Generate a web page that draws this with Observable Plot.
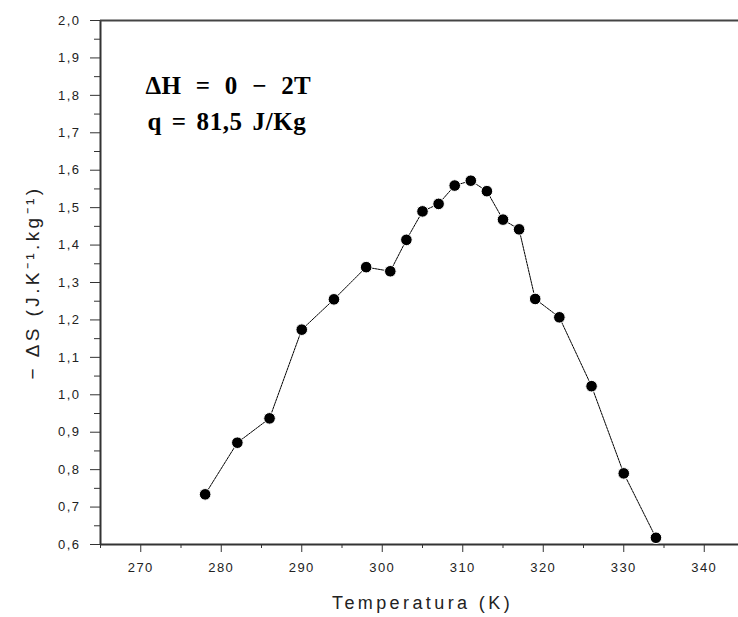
<!DOCTYPE html>
<html><head><meta charset="utf-8">
<script src="https://cdn.jsdelivr.net/npm/d3@7"></script>
<script src="https://cdn.jsdelivr.net/npm/@observablehq/plot@0.6"></script>
<style>
html,body{margin:0;padding:0;background:#fff;overflow:hidden}
#chart svg text{letter-spacing:1.5px}
#chart svg g.lbl text{letter-spacing:3.4px}
#chart svg g.ann1 text{letter-spacing:0.3px;word-spacing:8px}
#chart svg g.ann2 text{letter-spacing:0.6px;word-spacing:3px}
</style>
</head><body><div id="chart"></div>
<script>
const temperature = [278,282,286,290,294,298,301,303,305,307,309,311,313,315,317,319,322,326,330,334];
const deltaS = [0.734,0.872,0.937,1.174,1.255,1.341,1.330,1.414,1.490,1.510,1.559,1.572,1.544,1.468,1.442,1.256,1.207,1.023,0.790,0.618];
const xMajorTicks = [270,280,290,300,310,320,330,340];
const xMinorTicks = [265,275,285,295,305,315,325,335,345];
const yMajorTicks = [0.6,0.7,0.8,0.9,1.0,1.1,1.2,1.3,1.4,1.5,1.6,1.7,1.8,1.9,2.0];
const yMinorTicks = [0.65,0.75,0.85,0.95,1.05,1.15,1.25,1.35,1.45,1.55,1.65,1.75,1.85,1.95];
const xLabel = "Temperatura (K)";
const yLabel = "− ΔS (J.K⁻¹.kg⁻¹)";
const annotation1 = "ΔH = 0 − 2T";
const annotation2 = "q = 81,5 J/Kg";

const data = temperature.map((t, i) => ({t, s: deltaS[i]}));
const fmt = d => d.toFixed(1).replace(".", ",");
const axisColor = "#333";

const chart = Plot.plot({
  width: 738,
  height: 617,
  marginLeft: 100,
  marginRight: 0,
  marginTop: 20,
  marginBottom: 73,
  style: {fontFamily: "'Liberation Sans', Arial, sans-serif", fontSize: "13px", color: "#222", background: "#fff", overflow: "hidden"},
  x: {domain: [265, 345], range: [100, 744]},
  y: {domain: [0.6, 2.0]},
  marks: [
    Plot.axisX(xMajorTicks, {tickSize: 8, tickPadding: 10, tickFormat: d => String(d), label: null, stroke: axisColor}),
    Plot.axisX(xMinorTicks, {tickSize: 4, tickFormat: () => "", label: null, stroke: axisColor}),
    Plot.axisY(yMajorTicks, {tickSize: 10, tickPadding: 10, tickFormat: fmt, label: null, stroke: axisColor}),
    Plot.axisY(yMinorTicks, {tickSize: 6, tickFormat: () => "", label: null, stroke: axisColor}),
    Plot.ruleX([265], {stroke: axisColor, strokeWidth: 2}),
    Plot.ruleY([0.6], {stroke: axisColor, strokeWidth: 2}),
    Plot.ruleY([2.0], {stroke: "#444", strokeWidth: 2}),
    Plot.line(data, {x: "t", y: "s", stroke: "#000", strokeWidth: 1, strokeDasharray: "2,1"}),
    Plot.dot(data, {x: "t", y: "s", r: 5.8, fill: "#000", stroke: "#fff", strokeWidth: 1}),
    Plot.text([annotation1], {text: d => d, frameAnchor: "top-left", dx: 45, dy: 65, lineAnchor: "middle", textAnchor: "start", fontFamily: "'Liberation Serif', 'Times New Roman', serif", fontWeight: "bold", fontSize: 25, fill: "#000", className: "ann1"}),
    Plot.text([annotation2], {text: d => d, frameAnchor: "top-left", dx: 47, dy: 101, lineAnchor: "middle", textAnchor: "start", fontFamily: "'Liberation Serif', 'Times New Roman', serif", fontWeight: "bold", fontSize: 25, fill: "#000", className: "ann2"}),
    Plot.text([xLabel], {text: d => d, frameAnchor: "bottom", dx: 3, dy: 59, lineAnchor: "middle", textAnchor: "middle", fontSize: 18, fill: "#222", className: "lbl"}),
    Plot.text([yLabel], {text: d => d, frameAnchor: "left", dx: -68, rotate: -90, lineAnchor: "middle", textAnchor: "middle", fontSize: 19, fill: "#222", className: "lbl"})
  ]
});
document.getElementById("chart").appendChild(chart);
</script>
</body></html>
